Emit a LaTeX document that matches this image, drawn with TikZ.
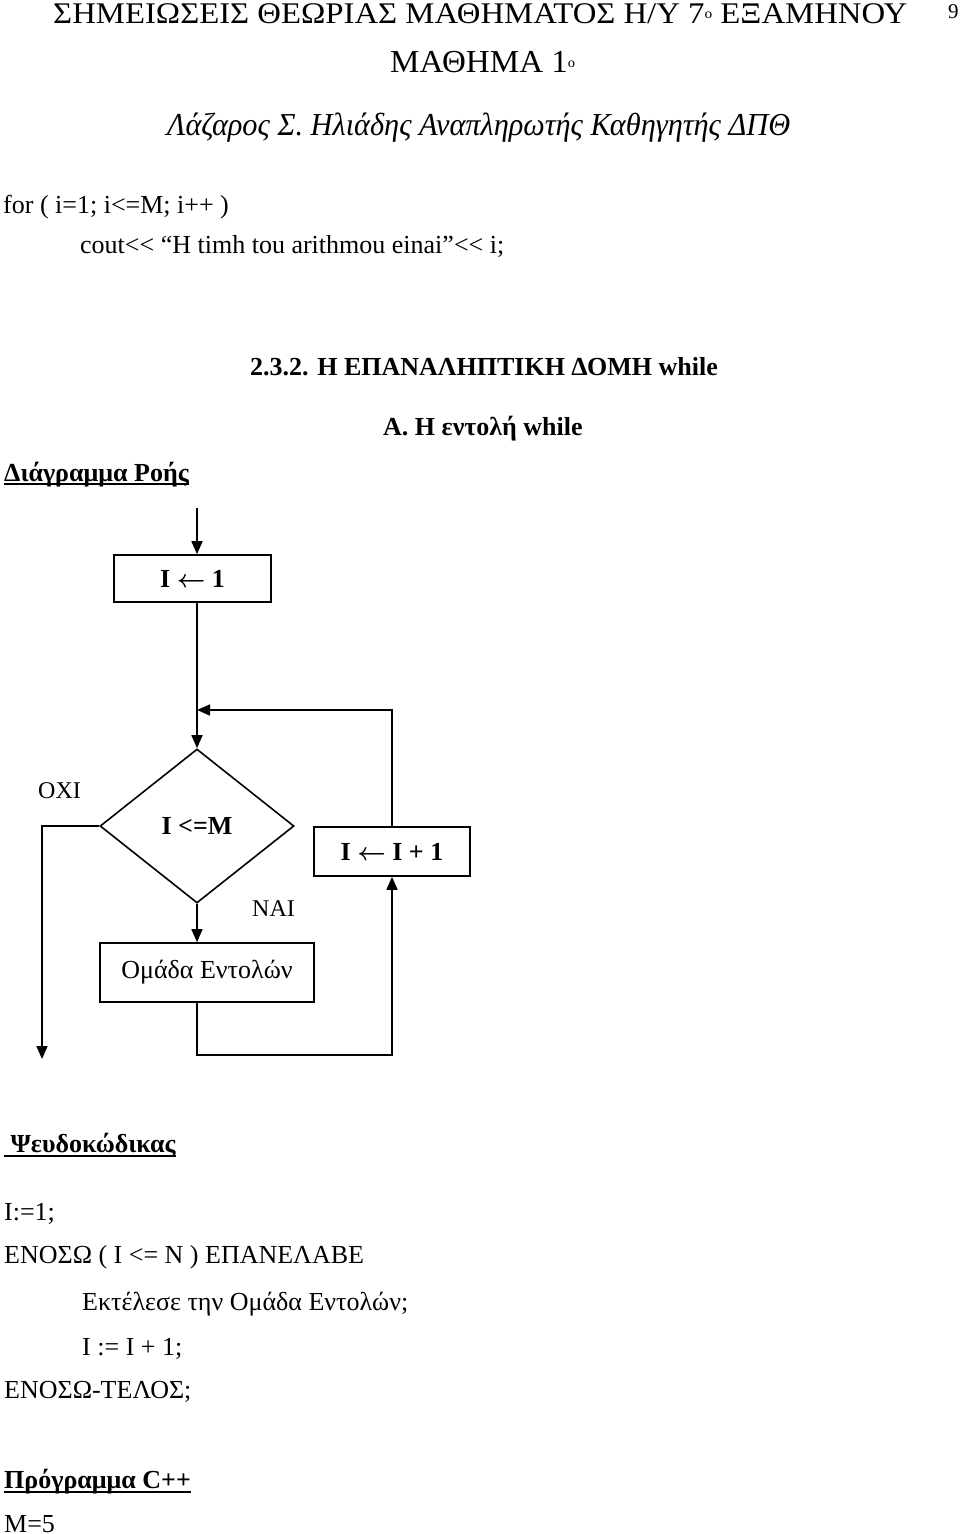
\documentclass[tikz,border=0pt]{standalone}
\usepackage{fontspec}
\usepackage{graphicx}
\setmainfont{Liberation Serif}
\usetikzlibrary{shapes.geometric,arrows.meta}
\newcommand{\fitw}[2]{\resizebox{#1}{\height}{#2}}
\newcommand{\ordo}{\raisebox{5pt}{\fontsize{14}{16}\selectfont ο}}
\newcommand{\assign}{{\boldmath$\leftarrow$}}

\begin{document}
\begin{tikzpicture}[x=1pt, y=-1pt,
    line/.style={line width=1.6pt},
    arr/.style={line width=1.6pt, -{Triangle[length=13pt, width=11pt]}},
    txt/.style={anchor=base west, inner sep=0pt, font=\fontsize{26}{30}\selectfont},
    bold/.style={txt, font=\fontsize{26}{30}\selectfont\bfseries},
    box/.style={draw, line width=1.6pt, inner sep=0pt, font=\fontsize{26}{30}\selectfont},
    decision/.style={diamond, draw, line width=1.6pt, inner sep=0pt,
      minimum width=194pt, minimum height=154pt, font=\fontsize{26}{30}\selectfont\bfseries}]
    \fill[white] (0,0) rectangle (960,1534);
    \useasboundingbox (0,0) rectangle (960,1534);

    \node[txt] (title) at (53,23) {\fitw{854pt}{\fontsize{30}{34}\selectfont ΣΗΜΕΙΩΣΕΙΣ ΘΕΩΡΙΑΣ ΜΑΘΗΜΑΤΟΣ Η/Υ 7\ordo{} ΕΞΑΜΗΝΟΥ}};
    \node[txt] (page) at (948,18) {\fontsize{21}{24}\selectfont 9};
    \node[txt] (lesson) at (390,72) {\fitw{185pt}{\fontsize{32}{36}\selectfont ΜΑΘΗΜΑ 1\ordo}};
    \node[txt] (author) at (167,135) {\fitw{623pt}{\fontsize{32}{36}\selectfont\itshape Λάζαρος Σ. Ηλιάδης Αναπληρωτής Καθηγητής ΔΠΘ}};

    \node[txt] (forline) at (3,213) {for ( i=1; i<=M; i++ )};
    \node[txt] (coutline) at (80,253) {cout<{}< “H timh tou arithmou einai”<{}< i;};

    \node[bold] (sect) at (250,375) {2.3.2. Η ΕΠΑΝΑΛΗΠΤΙΚΗ ΔΟΜΗ while};
    \node[bold] (subsect) at (383,435) {Α. Η εντολή while};
    \node[bold] (flowhead) at (4,481) {Διάγραμμα Ροής};
    \draw[line] ([yshift=-3pt]flowhead.base west) -- ([yshift=-3pt]flowhead.base east);

    \coordinate (entry) at (197,508);
    \coordinate (join) at (197,710);
    \coordinate (exit) at (42,1059);
    \node[box, minimum width=157pt, minimum height=47pt, font=\fontsize{26}{30}\selectfont\bfseries] (init) at (192.5,578.5) {I \assign{} 1};
    \node[decision] (test) at (197,826) {I <=M};
    \node[box, minimum width=156pt, minimum height=49pt, font=\fontsize{26}{30}\selectfont\bfseries] (incr) at (392,851.5) {I \assign{} I + 1};
    \node[box, minimum width=214pt, minimum height=59pt] (body) at (207,972.5) {Ομάδα Εντολών};
    \node[txt, font=\fontsize{24}{28}\selectfont] (no) at (38,798) {ΟΧΙ};
    \node[txt, font=\fontsize{24}{28}\selectfont] (yes) at (252,916) {ΝΑΙ};

    \draw[arr] (entry) -- (entry |- init.north);
    \draw[line] (init.south -| test.north) -- (join);
    \draw[arr] (join) -- (test.north);
    \draw[arr] (incr.north) |- (join);
    \draw[arr] (test.west) -| (exit);
    \draw[arr] (test.south) -- (test.south |- body.north);
    \draw[arr] (body.south -| test.south) -- ++(0,52) -| (incr.south);

    \node[bold] (pseudohead) at (4,1152) {\ Ψευδοκώδικας};
    \draw[line] ([yshift=-4pt]pseudohead.base west) -- ([yshift=-4pt]pseudohead.base east);
    \node[txt] (p1) at (4,1220) {I:=1;};
    \node[txt] (p2) at (4,1263) {ΕΝΟΣΩ ( I <= N ) ΕΠΑΝΕΛΑΒΕ};
    \node[txt] (p3) at (82,1310) {Εκτέλεσε την Ομάδα Εντολών;};
    \node[txt] (p4) at (82,1355) {I := I + 1;};
    \node[txt] (p5) at (4,1398) {ΕΝΟΣΩ-ΤΕΛΟΣ;};
    \node[bold] (proghead) at (4,1488) {Πρόγραμμα C++};
    \draw[line] ([yshift=-4pt]proghead.base west) -- ([yshift=-4pt]proghead.base east);
    \node[txt] (p6) at (4,1532) {M=5};
  \end{tikzpicture}
\end{document}
